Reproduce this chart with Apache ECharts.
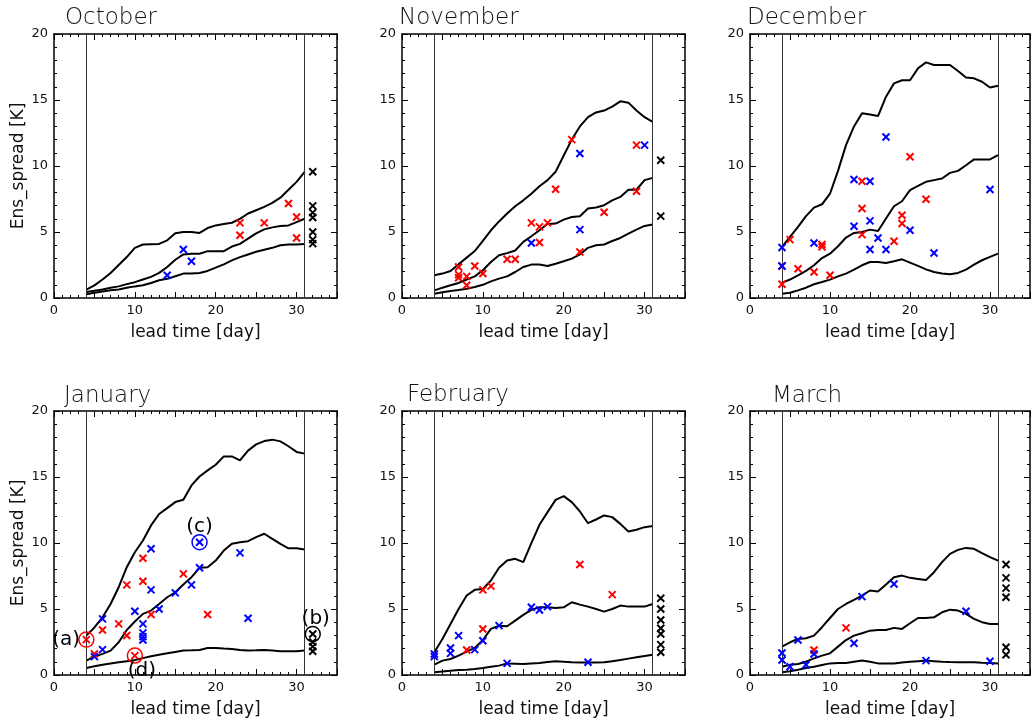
<!DOCTYPE html>
<html>
<head>
<meta charset="utf-8">
<script src="https://cdn.jsdelivr.net/npm/echarts@6/dist/echarts.min.js"></script>
<style>
  html, body { margin: 0; padding: 0; background: #fff; }
  #main { width: 1033px; height: 720px; }
</style>
</head>
<body>
<div id="main"></div>
<script>
// lead time of the percentile curves
var days = [4, 5, 6, 7, 8, 9, 10, 11, 12, 13, 14, 15, 16, 17, 18, 19, 20, 21, 22, 23, 24, 25, 26, 27, 28, 29, 30, 31];
var months = ['October', 'November', 'December', 'January', 'February', 'March'];
var window_days = [4, 31];

// October
var upOct = [0.63, 0.96, 1.4, 1.9, 2.5, 3.1, 3.8, 4.05, 4.08, 4.1, 4.37, 4.9, 5.0, 5.0, 4.93, 5.3, 5.5, 5.6, 5.7, 6.0, 6.4, 6.65, 6.9, 7.2, 7.6, 8.2, 8.8, 9.55];
var midOct = [0.45, 0.55, 0.65, 0.77, 0.88, 1.05, 1.2, 1.4, 1.6, 1.9, 2.35, 2.9, 3.3, 3.35, 3.35, 3.55, 3.55, 3.55, 3.9, 4.1, 4.5, 4.9, 5.2, 5.35, 5.45, 5.5, 5.75, 6.0];
var lowOct = [0.28, 0.4, 0.5, 0.58, 0.65, 0.77, 0.88, 0.96, 1.14, 1.35, 1.45, 1.65, 1.85, 1.85, 1.9, 2.05, 2.3, 2.55, 2.85, 3.1, 3.3, 3.5, 3.65, 3.8, 4.0, 4.05, 4.05, 4.1];
var redOct = [[23, 5.69], [23, 4.75], [26, 5.69], [29, 7.16], [30, 6.14], [30, 4.55]];
var blueOct = [[14, 1.72], [16, 3.67], [17, 2.78]];
var blackOct = [[32, 9.56], [32, 6.98], [32, 6.47], [32, 6.1], [32, 5.0], [32, 4.42], [32, 4.12]];

// November
var upNov = [1.72, 1.85, 2.05, 2.55, 3.06, 3.56, 4.32, 5.13, 5.8, 6.4, 6.95, 7.4, 7.9, 8.47, 8.93, 9.56, 10.8, 12.0, 13.0, 13.7, 14.06, 14.2, 14.5, 14.9, 14.8, 14.2, 13.7, 13.35];
var midNov = [0.58, 0.78, 0.96, 1.14, 1.4, 1.64, 2.1, 2.73, 3.24, 3.4, 3.6, 4.25, 4.68, 5.13, 5.6, 5.64, 5.94, 6.14, 6.2, 6.78, 6.85, 7.03, 7.4, 7.66, 8.2, 8.2, 8.93, 9.1];
var lowNov = [0.33, 0.43, 0.53, 0.6, 0.7, 0.83, 1.0, 1.26, 1.47, 1.64, 1.97, 2.35, 2.53, 2.53, 2.43, 2.6, 2.78, 2.98, 3.3, 3.8, 4.0, 4.05, 4.32, 4.55, 4.88, 5.18, 5.46, 5.56];
var redNov = [[7, 2.35], [7, 1.77], [7, 1.54], [8, 1.64], [8, 0.96], [9, 2.43], [10, 1.85], [13, 2.93], [14, 2.93], [16, 5.69], [17, 5.39], [17, 4.2], [18, 5.69], [19, 8.24], [21, 12.0], [22, 3.49], [25, 6.5], [29, 11.58], [29, 8.09]];
var blueNov = [[16, 4.17], [22, 10.95], [22, 5.18], [30, 11.58]];
var blackNov = [[32, 10.44], [32, 6.2]];

// December
var upDec = [3.87, 4.63, 5.39, 6.2, 6.85, 7.1, 7.9, 9.63, 11.58, 13.0, 14.0, 13.9, 13.78, 15.25, 16.26, 16.5, 16.5, 17.4, 17.85, 17.65, 17.65, 17.65, 17.2, 16.7, 16.64, 16.38, 15.95, 16.08];
var midDec = [1.14, 1.4, 1.72, 2.05, 2.48, 3.03, 3.36, 3.92, 4.58, 4.93, 5.0, 5.18, 5.08, 6.02, 6.95, 7.33, 8.17, 8.5, 8.8, 8.93, 9.05, 9.48, 9.63, 10.06, 10.5, 10.5, 10.5, 10.82];
var lowDec = [0.33, 0.4, 0.58, 0.78, 1.04, 1.21, 1.39, 1.64, 1.85, 2.15, 2.48, 2.73, 2.73, 2.65, 2.78, 2.93, 2.68, 2.43, 2.17, 1.97, 1.85, 1.8, 1.9, 2.15, 2.53, 2.86, 3.11, 3.36];
var redDec = [[4, 2.43], [4, 1.04], [5, 4.42], [6, 2.22], [8, 1.97], [9, 4.05], [9, 3.87], [10, 1.72], [14, 8.85], [14, 6.78], [14, 4.8], [18, 4.3], [19, 6.27], [19, 5.64], [20, 10.7], [22, 7.48]];
var blueDec = [[4, 3.82], [4, 2.43], [8, 4.17], [13, 8.98], [13, 5.44], [15, 8.85], [15, 5.84], [15, 3.67], [16, 4.55], [17, 12.2], [17, 3.67], [20, 5.13], [23, 3.41], [30, 8.22]];
var blackDec = [];

// January
var upJan = [2.98, 3.6, 4.37, 5.38, 6.65, 8.17, 9.3, 10.19, 11.33, 12.2, 12.64, 13.1, 13.27, 14.36, 15.04, 15.5, 15.93, 16.56, 16.56, 16.26, 17.0, 17.47, 17.72, 17.83, 17.7, 17.33, 16.9, 16.77];
var midJan = [1.09, 1.39, 1.6, 1.85, 2.48, 3.41, 4.05, 4.63, 4.88, 5.38, 5.89, 6.27, 6.85, 7.41, 8.12, 8.17, 8.67, 9.43, 9.94, 10.06, 10.14, 10.44, 10.7, 10.32, 9.94, 9.6, 9.6, 9.5];
var lowJan = [0.53, 0.66, 0.78, 0.87, 0.96, 1.05, 1.14, 1.28, 1.42, 1.53, 1.64, 1.75, 1.85, 1.87, 1.9, 2.05, 2.05, 2.0, 1.97, 1.9, 1.85, 1.87, 1.9, 1.85, 1.8, 1.8, 1.8, 1.85];
var redJan = [[5, 1.6], [6, 3.41], [8, 3.87], [9, 6.83], [9, 2.99], [11, 8.85], [11, 7.1], [12, 4.58], [16, 7.66], [19, 4.58], [4, 2.68], [10, 1.47]];
var blueJan = [[5, 1.39], [6, 4.25], [6, 1.92], [10, 4.83], [11, 3.87], [11, 3.19], [11, 2.91], [11, 2.65], [12, 9.56], [12, 6.45], [13, 5.0], [15, 6.22], [17, 6.83], [18, 8.12], [23, 9.25], [24, 4.3], [18, 10.06]];
var blackJan = [[32, 3.1], [32, 2.5], [32, 2.15], [32, 1.8]];
// highlighted cases (a)-(d)
var caseTags = ['(a)', '(b)', '(c)', '(d)'];
var casePoints = [[4, 2.68], [32, 3.1], [18, 10.06], [10, 1.47]];
var caseColors = ['#ff0000', '#000000', '#0000ff', '#ff0000'];

// February
var upFeb = [1.72, 2.73, 3.87, 5.0, 6.02, 6.45, 6.52, 7.16, 8.12, 8.67, 8.8, 8.55, 9.99, 11.38, 12.34, 13.27, 13.55, 13.1, 12.39, 11.5, 11.78, 12.09, 11.96, 11.45, 10.87, 11.0, 11.2, 11.28];
var midFeb = [0.78, 1.09, 1.21, 1.47, 1.77, 2.05, 2.65, 3.49, 3.74, 3.69, 4.12, 4.55, 4.93, 5.13, 5.13, 5.08, 5.13, 5.51, 5.33, 5.18, 5.0, 4.8, 5.0, 5.26, 5.18, 5.18, 5.18, 5.38];
var lowFeb = [0.2, 0.27, 0.33, 0.37, 0.4, 0.46, 0.53, 0.62, 0.71, 0.88, 0.86, 0.83, 0.87, 0.91, 0.98, 1.04, 1.0, 0.96, 0.95, 0.94, 0.95, 0.96, 1.05, 1.14, 1.24, 1.34, 1.44, 1.54];
var redFeb = [[8, 1.9], [10, 6.45], [10, 3.49], [11, 6.73], [22, 8.37], [26, 6.09]];
var blueFeb = [[4, 1.59], [4, 1.39], [6, 2.05], [6, 1.64], [7, 2.98], [9, 1.92], [10, 2.6], [12, 3.74], [13, 0.88], [16, 5.13], [17, 4.93], [18, 5.18], [23, 0.96]];
var blackFeb = [[32, 5.82], [32, 5.0], [32, 4.17], [32, 3.54], [32, 3.11], [32, 2.3], [32, 1.72]];

// March
var upMar = [2.15, 2.48, 2.73, 2.78, 2.98, 3.62, 4.32, 5.0, 5.38, 5.69, 6.02, 6.4, 6.32, 6.85, 7.41, 7.53, 7.36, 7.28, 7.2, 7.79, 8.55, 9.18, 9.48, 9.63, 9.56, 9.23, 8.93, 8.67];
var midMar = [0.63, 0.78, 0.83, 1.01, 1.26, 1.47, 1.64, 2.15, 2.65, 2.98, 3.16, 3.36, 3.41, 3.41, 3.57, 3.49, 3.92, 4.32, 4.32, 4.37, 4.75, 4.95, 4.88, 4.63, 4.25, 4.0, 3.87, 3.87];
var lowMar = [0.2, 0.28, 0.4, 0.53, 0.63, 0.76, 0.88, 0.9, 0.91, 1.0, 1.09, 1.01, 0.88, 0.87, 0.88, 0.95, 1.01, 1.05, 1.09, 1.05, 1.01, 0.98, 0.96, 0.96, 0.96, 0.93, 0.91, 0.88];
var redMar = [[8, 1.9], [12, 3.57]];
var blueMar = [[4, 1.67], [4, 1.14], [5, 0.63], [6, 2.65], [7, 0.78], [8, 1.59], [13, 2.4], [14, 5.94], [18, 6.9], [22, 1.09], [27, 4.83], [30, 1.04]];
var blackMar = [[32, 8.37], [32, 7.36], [32, 6.58], [32, 5.89], [32, 2.1], [32, 1.54]];

var panels = [
  [upOct, midOct, lowOct, redOct, blueOct, blackOct],
  [upNov, midNov, lowNov, redNov, blueNov, blackNov],
  [upDec, midDec, lowDec, redDec, blueDec, blackDec],
  [upJan, midJan, lowJan, redJan, blueJan, blackJan],
  [upFeb, midFeb, lowFeb, redFeb, blueFeb, blackFeb],
  [upMar, midMar, lowMar, redMar, blueMar, blackMar]
];

var FONT = 'DejaVu Sans';
var gridLeft = [54, 402, 750];
var gridTop = [34, 411];
var titleLeft = [65, 399, 747, 64, 407, 772];
var titleTop = [7, 7, 7, 385, 384, 385];
var CROSS = 'path://M0,0L10,10M10,0L0,10';

var chart = echarts.init(document.getElementById('main'));

var grids = [], xAxes = [], yAxes = [], series = [], titles = [];

function zip(xs, ys) {
  return xs.map(function (x, i) { return [x, ys[i]]; });
}

function axisCommon(show) {
  return {
    axisLine: { show: true, onZero: false, lineStyle: { color: '#000', width: 1.5 } },
    axisTick: { show: true, inside: true, length: 6, lineStyle: { color: '#000', width: 1 } },
    minorTick: { show: true, length: 3, lineStyle: { color: '#000', width: 1 } },
    splitLine: { show: false },
    minorSplitLine: { show: false },
    axisLabel: {
      show: show, color: '#111', fontFamily: FONT, fontSize: 13, margin: 6
    }
  };
}

function crosses(data, color, xi, yi) {
  return {
    type: 'scatter', xAxisIndex: xi, yAxisIndex: yi,
    data: data, symbol: CROSS, symbolSize: 7,
    itemStyle: { color: color, borderColor: color, borderWidth: 2, opacity: 1 },
    silent: true, z: 5
  };
}

panels.forEach(function (p, i) {
  var col = i % 3, row = Math.floor(i / 3);
  grids.push({ left: gridLeft[col], top: gridTop[row], width: col === 2 ? 282 : 283, height: 264 });
  titles.push({
    text: months[i], left: titleLeft[i], top: titleTop[i], padding: 0,
    textStyle: { fontFamily: FONT, fontSize: 23, fontWeight: 200, color: '#111' }
  });

  var xb = Object.assign(axisCommon(true), {
    type: 'value', gridIndex: i, position: 'bottom', min: 0, max: 35, interval: 5,
    name: 'lead time [day]', nameLocation: 'middle', nameGap: 26,
    nameTextStyle: { fontFamily: FONT, fontSize: 17, color: '#111' }
  });
  xb.axisLabel.formatter = function (v) { return (v % 10 === 0 && v < 35) ? String(v) : ''; };
  xb.minorTick.splitNumber = 5;
  var xt = Object.assign(axisCommon(false), {
    type: 'value', gridIndex: i, position: 'top', min: 0, max: 35, interval: 5
  });
  xt.minorTick.splitNumber = 5;
  xAxes.push(xb, xt);

  var yl = Object.assign(axisCommon(true), {
    type: 'value', gridIndex: i, position: 'left', min: 0, max: 20, interval: 5
  });
  yl.minorTick.splitNumber = 5;
  if (col === 0) {
    yl.name = 'Ens_spread [K]';
    yl.nameLocation = 'middle';
    yl.nameGap = 27;
    yl.nameTextStyle = { fontFamily: FONT, fontSize: 17, color: '#111' };
  }
  var yr = Object.assign(axisCommon(false), {
    type: 'value', gridIndex: i, position: 'right', min: 0, max: 20, interval: 5
  });
  yr.minorTick.splitNumber = 5;
  yAxes.push(yl, yr);

  var xi = 2 * i, yi = 2 * i;
  [p[0], p[1], p[2]].forEach(function (curve, k) {
    var s = {
      type: 'line', xAxisIndex: xi, yAxisIndex: yi, data: zip(days, curve),
      showSymbol: false, symbol: 'none', silent: true,
      lineStyle: { color: '#000', width: 2 }, z: 3
    };
    if (k === 0) {
      s.markLine = {
        silent: true, symbol: 'none', label: { show: false },
        lineStyle: { color: '#333', width: 1, type: 'solid' },
        data: window_days.map(function (d) { return { xAxis: d }; })
      };
    }
    series.push(s);
  });
  series.push(crosses(p[3], '#ff0000', xi, yi));
  series.push(crosses(p[4], '#0000ff', xi, yi));
  series.push(crosses(p[5], '#000000', xi, yi));

  if (i === 3) {
    var labelPos = ['left', 'top', 'top', 'bottom'];
    var labelOff = [[3, 0], [3, 4], [0, 4], [7, -4]];
    series.push({
      type: 'scatter', xAxisIndex: xi, yAxisIndex: yi, silent: true, z: 6,
      symbol: 'circle', symbolSize: 15,
      data: casePoints.map(function (pt, k) {
        return {
          value: pt,
          itemStyle: { color: 'rgba(0,0,0,0)', borderColor: caseColors[k], borderWidth: 1.5, opacity: 1 },
          label: {
            show: true, formatter: caseTags[k], position: labelPos[k], distance: 1,
            offset: labelOff[k], color: '#000', fontFamily: FONT, fontSize: 20
          }
        };
      })
    });
  }
});

chart.setOption({
  animation: false,
  backgroundColor: '#fff',
  title: titles,
  grid: grids,
  xAxis: xAxes,
  yAxis: yAxes,
  series: series
});
</script>
</body>
</html>
